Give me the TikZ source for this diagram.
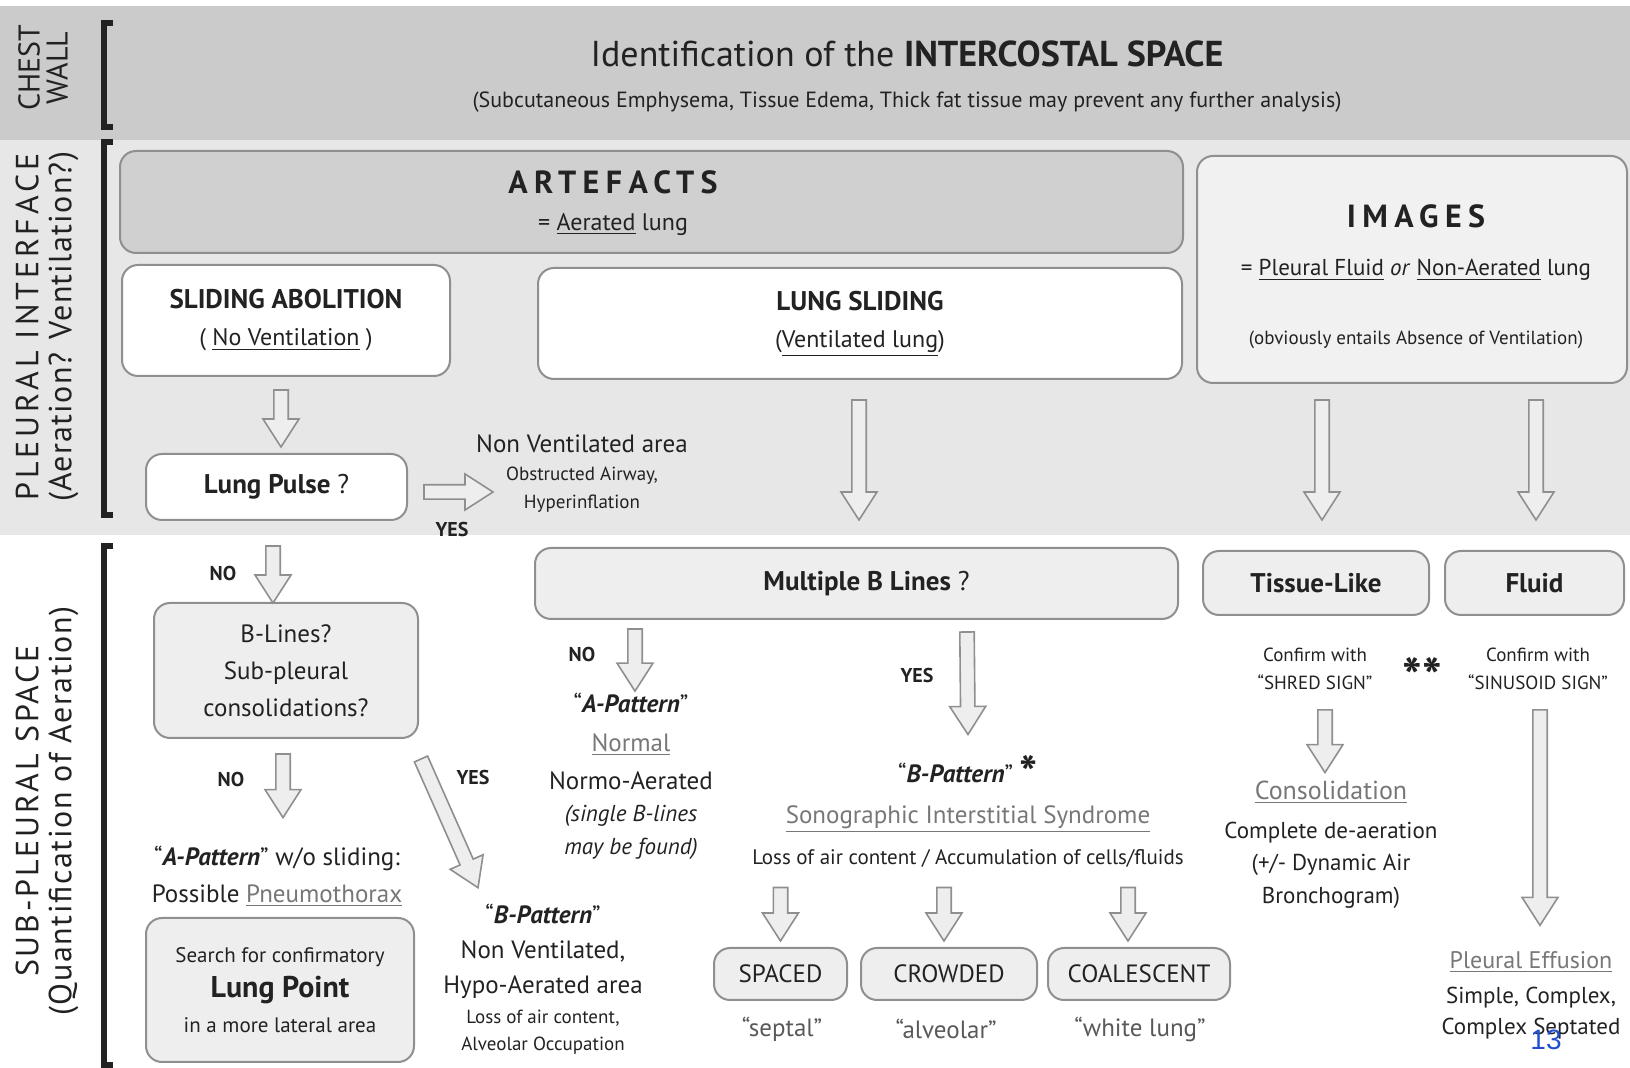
\documentclass[tikz,border=0pt]{standalone}
\usepackage{fontspec}
\setmainfont{PT Sans}
\newfontfamily\slidenumfont{Liberation Sans}
\usetikzlibrary{calc}
\definecolor{ink}{HTML}{222222}
\definecolor{edge}{HTML}{8F8F8F}
\definecolor{band}{HTML}{CBCBCB}
\definecolor{wash}{HTML}{E7E7E7}
\definecolor{artfill}{HTML}{D0D0D0}
\definecolor{pale}{HTML}{EEEEEE}
\definecolor{soft}{HTML}{777777}
\definecolor{slidenum}{HTML}{1F4FD0}
\newcommand\fsz[2]{\fontsize{#1}{#2}\selectfont}
\newcommand\grul[1]{\textcolor{soft}{\underline{#1}}}

\begin{document}
\begin{tikzpicture}[x=0.5pt, y=-0.5pt,
  every node/.style={inner sep=0pt, outer sep=0pt, text=ink, align=center},
  pane/.style={draw=edge, line width=1pt, rounded corners=8pt},
  whitepane/.style={pane, fill=white},
  greypane/.style={pane, fill=pale},
  tagword/.style={font=\bfseries\fsz{10}{12}},
  sidebar/.style={draw=ink, line width=2.6pt},
  hollow/.style={draw=edge, fill=pale, line width=0.8pt, line join=miter,
    to path={let \p1=(\tikztostart), \p2=(\tikztotarget),
      \n1={atan2(\y2-\y1,\x2-\x1)}, \n2={veclen(\x2-\x1,\y2-\y1)} in
      ($(\p1)+(\n1+90:3.6pt)$)
      -- ($(\p1)+(\n1:\n2-14pt)+(\n1+90:3.6pt)$)
      -- ($(\p1)+(\n1:\n2-14pt)+(\n1+90:9pt)$)
      -- (\p2)
      -- ($(\p1)+(\n1:\n2-14pt)+(\n1-90:9pt)$)
      -- ($(\p1)+(\n1:\n2-14pt)+(\n1-90:3.6pt)$)
      -- ($(\p1)+(\n1-90:3.6pt)$) -- cycle}}]
  \useasboundingbox (0,0) rectangle (1630,1068);

  % chest wall band and pleural zone
  \fill[band] (0,6) rectangle (1630,140);
  \fill[wash] (0,140) rectangle (1630,535);
  \draw[sidebar] (113,23) -- (104,23) -- (104,127) -- (113,127);
  \draw[sidebar] (113,142) -- (104,142) -- (104,515) -- (113,515);
  \draw[sidebar] (113,546) -- (104,546) -- (104,1065) -- (113,1065);

  \node[rotate=90, font=\fsz{15}{14}] (chestlbl) at (43,68) {CHEST\\WALL};
  \node[rotate=90, font=\fsz{16}{16.5}] (pleuralbl) at (47,327) {{\addfontfeature{LetterSpace=12}PLEURAL INTERFACE}\\{\addfontfeature{LetterSpace=4}(Aeration? Ventilation?)}};
  \node[rotate=90, font=\fsz{16}{16.5}] (subpllbl) at (47,811) {{\addfontfeature{LetterSpace=9}SUB-PLEURAL SPACE}\\{\addfontfeature{LetterSpace=5}(Quantification of Aeration)}};

  \node[font=\fsz{18}{20}] (ttl) at (907,54) {Identification of the \textbf{INTERCOSTAL SPACE}};
  \node[font=\fsz{11}{12}] (subttl) at (907,102) {(Subcutaneous Emphysema, Tissue Edema, Thick fat tissue may prevent any further analysis)};

  % pleural interface
  \node[pane, fill=artfill, minimum width=531.5pt, minimum height=51pt] (art) at (651.5,202) {};
  \node[font=\fsz{12}{18.5}] (artT) at (613,203) {{\bfseries\fsz{16}{18.5}\addfontfeature{LetterSpace=20}ARTEFACTS}\\= \underline{Aerated} lung};
  \node[whitepane, minimum width=164pt, minimum height=55.5pt, font=\fsz{12}{18.5}] (sa) at (286,320.5) {{\bfseries\fsz{13.5}{18.5}SLIDING ABOLITION}\\( \underline{No Ventilation} )};
  \node[whitepane, minimum width=322pt, minimum height=55.5pt, font=\fsz{12}{18.5}] (ls) at (860,323.5) {{\bfseries\fsz{13.5}{18.5}LUNG SLIDING}\\(\underline{Ventilated lung})};
  \node[pane, fill=wash!60!white, minimum width=215pt, minimum height=113.5pt] (img) at (1412,269.5) {};
  \node[font=\fsz{11.5}{24}] (imgT) at (1416,277) {{\bfseries\fsz{16}{24}\addfontfeature{LetterSpace=20}IMAGES}\\= \underline{Pleural Fluid} \textit{or} \underline{Non-Aerated} lung\\[10.5pt]{\fsz{9.5}{24}(obviously entails Absence of Ventilation)}};

  \node[whitepane, minimum width=130.5pt, minimum height=33pt, font=\bfseries\fsz{13.5}{16}] (lp) at (276.5,487) {Lung Pulse {\mdseries ?}};
  \node[font=\fsz{12.5}{14}] (nva) at (582,444) {Non Ventilated area};
  \node[font=\fsz{9.5}{14}] (obs) at (582,490) {Obstructed Airway,\\Hyperinflation};
  \node[tagword] (yes1) at (452,530) {YES};

  % sub-pleural space
  \node[tagword] (no1) at (223,574) {NO};
  \node[greypane, minimum width=132pt, minimum height=67.5pt, font=\fsz{12.5}{18.5}] (bl) at (286,670.5) {B-Lines?\\Sub-pleural\\consolidations?};
  \node[tagword] (no2) at (231,780) {NO};
  \node[tagword] (yes2) at (473,778) {YES};
  \node[font=\fsz{12.5}{18.5}] (apw) at (277,876) {“\textbf{\textit{A-Pattern}}” w/o sliding:\\Possible \grul{Pneumothorax}};
  \node[greypane, minimum width=134pt, minimum height=72pt, font=\fsz{10.5}{17.5}] (lpt) at (280,990) {Search for confirmatory\\{\bfseries\fsz{15}{17.5}Lung Point}\\in a more lateral area};
  \node[font=\fsz{12.5}{17.5}] (bpl) at (543,951) {“\textbf{\textit{B-Pattern}}”\\Non Ventilated,\\Hypo-Aerated area};
  \node[font=\fsz{9.5}{13.5}] (bpl2) at (543,1032.5) {Loss of air content,\\Alveolar Occupation};

  \node[greypane, minimum width=321.5pt, minimum height=35.5pt, font=\bfseries\fsz{13.5}{16}] (mbl) at (856.5,583.5) {\hspace*{10pt}Multiple B Lines {\mdseries ?}};
  \node[greypane, minimum width=113pt, minimum height=32pt, font=\bfseries\fsz{13.5}{16}] (tl) at (1316,583) {Tissue-Like};
  \node[greypane, minimum width=89.5pt, minimum height=32pt, font=\bfseries\fsz{13.5}{16}] (fl) at (1534.5,583) {Fluid};

  \node[tagword] (no3) at (582,655) {NO};
  \node[font=\fsz{12.5}{19.25}] (apm) at (631,741.5) {“\textbf{\textit{A-Pattern}}”\\\grul{Normal}\\Normo-Aerated};
  \node[font=\itshape\fsz{11.5}{16.5}] (apm2) at (631,832.5) {(single B-lines\\may be found)};
  \node[tagword] (yes3) at (917,676) {YES};
  \node[font=\fsz{12.5}{20.5}] (bpm) at (968,811.5) {“\textbf{\textit{B-Pattern}}” {\bfseries\fsz{24}{20.5}\raisebox{-4pt}{*}}\\\grul{Sonographic Interstitial Syndrome}\\{\fsz{10.5}{20.5}Loss of air content / Accumulation of cells/fluids}};
  \node[greypane, minimum width=66.5pt, minimum height=26pt, font=\fsz{12.5}{14}] (sp) at (780.5,974) {SPACED};
  \node[greypane, minimum width=88pt, minimum height=26pt, font=\fsz{12.5}{14}] (cr) at (949,974) {CROWDED};
  \node[greypane, minimum width=91pt, minimum height=26pt, font=\fsz{12.5}{14}] (co) at (1139,974) {COALESCENT};
  \node[font=\fsz{12.5}{14}, text=ink!75] (sptl) at (782,1029) {“septal”};
  \node[font=\fsz{12.5}{14}, text=ink!75] (alvl) at (946,1029) {“alveolar”};
  \node[font=\fsz{12.5}{14}, text=ink!75] (whtl) at (1140,1029) {“white lung”};

  \node[font=\fsz{9.5}{14}] (cf1) at (1315,669) {Confirm with\\“SHRED SIGN”};
  \node[font=\bfseries\fsz{26}{20}] (stars) at (1422,676) {**};
  \node[font=\fsz{9.5}{14}] (cf2) at (1538,669) {Confirm with\\“SINUSOID SIGN”};
  \node[font=\fsz{13}{16}] (cons) at (1331,792) {\grul{Consolidation}};
  \node[font=\fsz{11.5}{16.25}] (consd) at (1331,865) {Complete de-aeration\\(+/- Dynamic Air\\Bronchogram)};
  \node[font=\fsz{12}{15}] (pe) at (1531,962) {\grul{Pleural Effusion}};
  \node[font=\fsz{11.5}{15.5}] (pes) at (1531,1013.5) {Simple, Complex,\\Complex Septated};
  \node[font=\slidenumfont\fsz{14}{16}, text=slidenum] (pg) at (1546,1040) {13};

  % block arrows
  \draw[hollow] ($(sa.south)+(-5,14)$) to ($(lp.north)+(4.5,-7)$);
  \draw[hollow] ($(lp.east)+(17,5)$) to ($(obs.west)+(-13,2)$);
  \draw[hollow] ($(ls.south)+(-1,21)$) to ($(mbl.north)+(2.5,-28)$);
  \draw[hollow] ($(tl.north |- img.south)+(6,17)$) to ($(tl.north)+(6,-31)$);
  \draw[hollow] ($(fl.north |- img.south)+(1.5,17)$) to ($(fl.north)+(1.5,-31)$);
  \draw[hollow] ($(lp.south)+(-3.5,26)$) to ($(bl.north)+(-13,0)$);
  \draw[hollow] ($(bl.south)+(-3,16)$) to ($(apw.north)+(6,-28)$);
  \draw[hollow] ($(bl.south east)+(3,21)$) to ($(bpl.north)+(-65,-16)$);
  \draw[hollow] ($(mbl.south west)+(100,10)$) to ($(apm.north)+(4,-2)$);
  \draw[hollow] ($(mbl.south)+(110.5,13)$) to ($(bpm.north)+(0,-21)$);
  \foreach \b/\dx in {sp/0,cr/-5,co/-11}
    \draw[hollow] ($(\b.north |- bpm.south)+(\dx,20)$) to ($(\b.north)+(\dx,-7)$);
  \draw[hollow] ($(cf1.south)+(10,20)$) to ($(cons.north)+(-6,-8)$);
  \draw[hollow] ($(cf2.south)+(2,20)$) to ($(pe.north)+(9,-26)$);
\end{tikzpicture}
\end{document}
